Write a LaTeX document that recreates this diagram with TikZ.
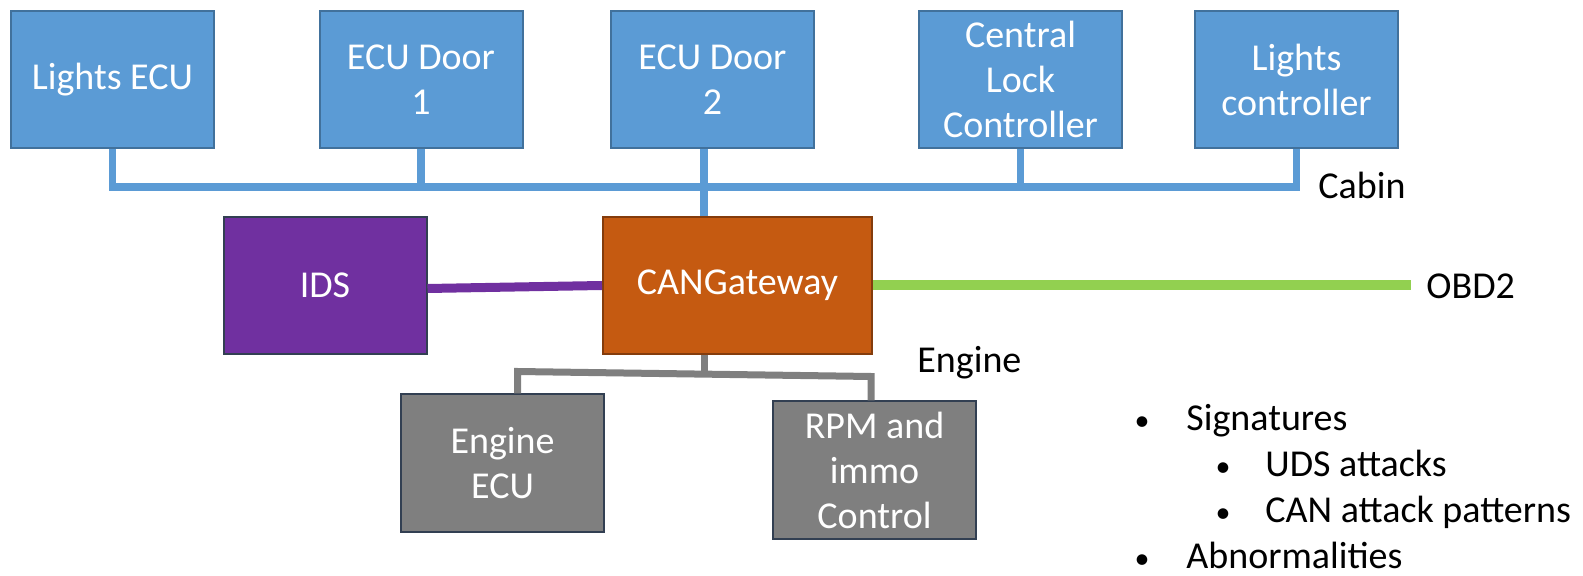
\documentclass[tikz,border=0pt]{standalone}
\usepackage{fontspec}
\setmainfont{Carlito}
\usepackage{tikz}

\definecolor{cabblue}{HTML}{5B9BD5}
\definecolor{cabedge}{HTML}{41719C}
\definecolor{idspurple}{HTML}{7030A0}
\definecolor{gworange}{HTML}{C55A11}
\definecolor{gwedge}{HTML}{843C0C}
\definecolor{enggray}{HTML}{7F7F7F}
\definecolor{slate}{HTML}{323F52}
\definecolor{obdgreen}{HTML}{92D050}

\tikzset{
  txt/.style={font=\fontsize{19}{22.5}\selectfont},
  box/.style={txt, draw, line width=1pt, minimum width=101.5pt, minimum height=68.5pt,
    inner sep=1pt, align=center, text=white},
  cabecu/.style={box, fill=cabblue, draw=cabedge},
  engecu/.style={box, fill=enggray, draw=slate},
  cabbus/.style={draw=cabblue, line width=3.75pt},
  engbus/.style={draw=enggray, line width=3.5pt},
  lbl/.style={txt, inner sep=0pt, anchor=base west},
  dot/.style={font=\fontsize{15}{15}\selectfont, inner sep=0pt, anchor=base}
}

\begin{document}
\begin{tikzpicture}[x=0.5pt, y=-0.5pt]
  \useasboundingbox (0,0) rectangle (1583,576);
  % cabin ECUs
  \node[cabecu] (lecu) at (112.5,79.5) {Lights ECU};
  \node[cabecu] (door1) at (421,79.5) {ECU Door\\1};
  \node[cabecu] (door2) at (712.5,79.5) {ECU Door\\2};
  \node[cabecu] (clock) at (1020.5,79.5) {Central\\Lock\\Controller};
  \node[cabecu] (lctl) at (1296.5,79.5) {Lights\\controller};
  % gateway and IDS
  \node[box, fill=idspurple, draw=slate] (ids) at (325,285.5) {IDS};
  \node[box, fill=gworange, draw=gwedge, minimum width=134.5pt] (gw) at (737.5,285.5) {CANGateway};
  % engine ECUs
  \node[engecu] (eecu) at (502.5,463) {Engine\\ECU};
  \node[engecu] (rpm) at (874.5,470) {RPM and\\immo\\Control};

  \draw[cabbus] (lecu.south) -- ++(0,38) coordinate (cab) -| (lctl.south);
  \foreach \n in {door1,clock}
    \draw[cabbus] (\n.south) -- (\n.south |- cab);
  \draw[cabbus] ([xshift=-4.25pt]door2.south) -- ([xshift=-4.25pt]door2.south |- gw.north);
  \draw[draw=idspurple, line width=4.5pt] ([yshift=-1.5pt]ids.east) -- (gw.west);
  \draw[draw=obdgreen, line width=5pt] (gw.east) -- ++(538,0) coordinate (obd);
  \draw[engbus] ([xshift=-16.75pt]gw.south) -- ++(0,19);
  \draw[engbus] ([xshift=7.5pt]eecu.north) -- ++(0,-22) -- ([xshift=-1.75pt,yshift=12pt]rpm.north) -- ([xshift=-1.75pt]rpm.north);

  % labels
  \node[lbl] (cabin) at (1318,199) {Cabin};
  \node[lbl] (obdtxt) at (1426,299) {OBD2};
  \node[lbl] (engine) at (917,373) {Engine};

  % detection list
  \node[dot] (b1) at (1142,431) {•};
  \node[lbl] (sig) at (1186,431) {Signatures};
  \node[dot] (b2) at (1223,477) {•};
  \node[lbl] (uds) at (1265,477) {UDS attacks};
  \node[dot] (b3) at (1223,523) {•};
  \node[lbl] (canp) at (1265,523) {CAN attack patterns};
  \node[dot] (b4) at (1142,568) {•};
  \node[lbl] (abn) at (1186,568) {Abnormalities};
\end{tikzpicture}
\end{document}
